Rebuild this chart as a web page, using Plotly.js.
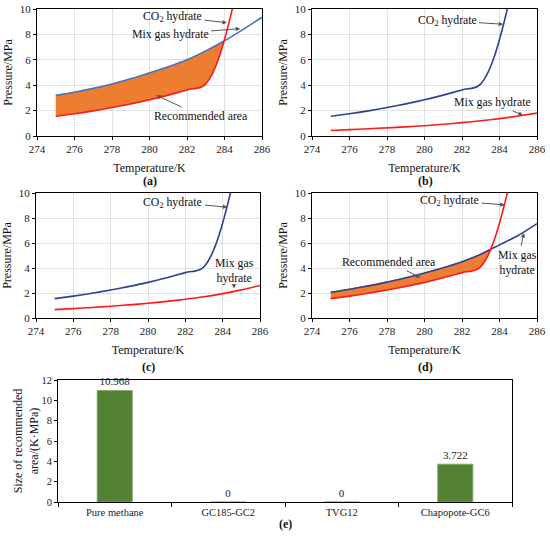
<!DOCTYPE html>
<html>
<head>
<meta charset="utf-8">
<script src="https://cdn.plot.ly/plotly-3.0.1.min.js"></script>
<style>html,body{margin:0;padding:0;background:#fff;}#chart{width:550px;height:541px;}</style>
</head>
<body>
<div id="chart"></div>
<script>
// ---- Data ----
// CO2 hydrate equilibrium curve (same in all four panels)
const co2T = [275, 276, 277, 278, 279, 280, 281, 282, 282.2, 282.5, 282.8, 283.0, 283.2, 283.4, 283.6, 283.8, 284.0, 284.2, 284.35, 284.5];
const co2P = [1.55, 1.75, 1.98, 2.24, 2.53, 2.85, 3.22, 3.63, 3.70, 3.75, 3.88, 4.10, 4.50, 5.05, 5.75, 6.60, 7.60, 8.70, 9.60, 10.5];

// Mixed gas hydrate curves
const mixT  = [275, 276, 277, 278, 279, 280, 281, 282, 283, 284, 285, 286];
const mixA  = [3.20, 3.45, 3.75, 4.10, 4.50, 4.97, 5.45, 6.00, 6.70, 7.50, 8.40, 9.35]; // (a) Pure methane
const mixB  = [0.43, 0.50, 0.57, 0.64, 0.72, 0.81, 0.92, 1.05, 1.20, 1.37, 1.57, 1.80]; // (b) GC185-GC2
const mixC  = [0.67, 0.75, 0.84, 0.94, 1.05, 1.18, 1.33, 1.50, 1.70, 1.95, 2.25, 2.60]; // (c) TVG12
const mixD  = [2.05, 2.30, 2.57, 2.87, 3.22, 3.60, 4.02, 4.50, 5.10, 5.85, 6.60, 7.55]; // (d) Chapopote-GC6

// Panel (e) bar chart
const gasNames = ['Pure methane', 'GC185-GC2', 'TVG12', 'Chapopote-GC6'];
const areaSize = [10.968, 0, 0, 3.722];

// Axis ticks
const tTicks = [274, 276, 278, 280, 282, 284, 286];
const pTicks = [0, 2, 4, 6, 8, 10];
const sTicks = [0, 2, 4, 6, 8, 10, 12];

// ---- Helpers ----
function interp(xs, ys, x) {
  if (x <= xs[0]) return ys[0];
  for (let i = 1; i < xs.length; i++) {
    if (x <= xs[i]) {
      const f = (x - xs[i - 1]) / (xs[i] - xs[i - 1]);
      return ys[i - 1] + f * (ys[i] - ys[i - 1]);
    }
  }
  return ys[ys.length - 1];
}
// Region between the mixed-gas curve (upper) and CO2 curve (lower), up to their crossing
function areaPolygon(mT, mP) {
  let ti = null, pi = null;
  for (let i = 1; i < co2T.length; i++) {
    const d0 = co2P[i - 1] - interp(mT, mP, co2T[i - 1]);
    const d1 = co2P[i] - interp(mT, mP, co2T[i]);
    if (d0 < 0 && d1 >= 0) {
      const f = -d0 / (d1 - d0);
      ti = co2T[i - 1] + f * (co2T[i] - co2T[i - 1]);
      pi = interp(mT, mP, ti);
      break;
    }
  }
  const xs = [], ys = [];
  mT.forEach((t, i) => { if (t < ti) { xs.push(t); ys.push(mP[i]); } });
  xs.push(ti); ys.push(pi);
  for (let i = co2T.length - 1; i >= 0; i--) {
    if (co2T[i] < ti) { xs.push(co2T[i]); ys.push(co2P[i]); }
  }
  return {x: xs, y: ys};
}

const RED = '#ff1a1a';
const BLUE_A = '#4472c4';
const BLUE_B = '#2f3f94';
const ORANGE = '#ed7d31';
const FONT = "'Liberation Serif', 'Times New Roman', Times, serif";

function curve(x, y, color, xa, ya, name) {
  return {x: x, y: y, type: 'scatter', mode: 'lines', name: name,
          line: {color: color, width: 1.6, shape: 'spline', smoothing: 0.6},
          xaxis: xa, yaxis: ya, showlegend: false, hoverinfo: 'skip'};
}
function area(poly, xa, ya) {
  return {x: poly.x, y: poly.y, type: 'scatter', mode: 'lines', fill: 'toself',
          fillcolor: ORANGE, line: {color: ORANGE, width: 0.5},
          xaxis: xa, yaxis: ya, showlegend: false, hoverinfo: 'skip', name: 'Recommended area'};
}

const polyA = areaPolygon(mixT, mixA);
const polyD = areaPolygon(mixT, mixD);

const traces = [
  area(polyA, 'x', 'y'),
  curve(mixT, mixA, BLUE_A, 'x', 'y', 'Mix gas hydrate'),
  curve(co2T, co2P, RED, 'x', 'y', 'CO2 hydrate'),

  curve(mixT, mixB, RED, 'x2', 'y2', 'Mix gas hydrate'),
  curve(co2T, co2P, BLUE_B, 'x2', 'y2', 'CO2 hydrate'),

  curve(mixT, mixC, RED, 'x3', 'y3', 'Mix gas hydrate'),
  curve(co2T, co2P, BLUE_B, 'x3', 'y3', 'CO2 hydrate'),

  area(polyD, 'x4', 'y4'),
  curve(mixT, mixD, BLUE_B, 'x4', 'y4', 'Mix gas hydrate'),
  curve(co2T, co2P, RED, 'x4', 'y4', 'CO2 hydrate'),

  {x: gasNames, y: areaSize, type: 'bar', xaxis: 'x5', yaxis: 'y5',
   marker: {color: '#548235', line: {color: '#86a566', width: 0.8}},
   text: areaSize.map(v => String(v)), textposition: 'outside', cliponaxis: false,
   textfont: {family: FONT, size: 11, color: '#222'},
   width: 0.31, showlegend: false, hoverinfo: 'skip'}
];

const W = 550, H = 541;
const dx = (a, b) => [a / W, b / W];
const dy = (top, bot) => [1 - bot / H, 1 - top / H];

function tAxis(domain, anchor) {
  return {domain: domain, anchor: anchor, range: [274, 286], tickvals: tTicks,
          showgrid: true, gridcolor: '#d9d9d9', gridwidth: 0.8, zeroline: false,
          showline: true, linecolor: '#000', linewidth: 1, mirror: true,
          ticks: 'outside', ticklen: 3, tickcolor: '#000',
          tickfont: {family: FONT, size: 11, color: '#222'},
          title: {text: 'Temperature/K', font: {family: FONT, size: 12, color: '#111'}, standoff: 9}};
}
function pAxis(domain, anchor) {
  return {domain: domain, anchor: anchor, range: [0, 10], tickvals: pTicks,
          showgrid: true, gridcolor: '#d9d9d9', gridwidth: 0.8, zeroline: false,
          showline: true, linecolor: '#000', linewidth: 1, mirror: true,
          ticks: 'outside', ticklen: 3, tickcolor: '#000',
          tickfont: {family: FONT, size: 11, color: '#222'},
          title: {text: 'Pressure/MPa', font: {family: FONT, size: 12, color: '#111'}, standoff: 4}};
}

const layout = {
  width: W, height: H,
  margin: {l: 0, r: 0, t: 0, b: 0},
  paper_bgcolor: '#fff', plot_bgcolor: '#fff',
  font: {family: FONT, color: '#111'},
  xaxis:  tAxis(dx(37, 262), 'y'),
  yaxis:  pAxis(dy(9, 136), 'x'),
  xaxis2: tAxis(dx(312, 537), 'y2'),
  yaxis2: pAxis(dy(9, 136), 'x2'),
  xaxis3: tAxis(dx(36, 260), 'y3'),
  yaxis3: pAxis(dy(193, 318), 'x3'),
  xaxis4: tAxis(dx(312, 537), 'y4'),
  yaxis4: pAxis(dy(193, 318), 'x4'),
  xaxis5: {domain: dx(58, 512), anchor: 'y5', type: 'category',
           showline: true, linecolor: '#000', linewidth: 1, mirror: true,
           ticks: 'outside', tickson: 'boundaries', ticklen: 4, tickcolor: '#000',
           showgrid: false, tickfont: {family: FONT, size: 10.5, color: '#222'}},
  yaxis5: {domain: dy(380, 502), anchor: 'x5', range: [0, 12], tickvals: sTicks,
           showline: true, linecolor: '#000', linewidth: 1, mirror: true,
           ticks: 'outside', ticklen: 3, tickcolor: '#000', showgrid: false, zeroline: false,
           tickfont: {family: FONT, size: 10.5, color: '#222'},
           title: {text: 'Size of recommended<br>area/(K·MPa)', font: {family: FONT, size: 12, color: '#111'}, standoff: 0}},
  annotations: []
};

const AF = {family: FONT, size: 11.8, color: '#111'};
function note(text, xr, yr, hx, hy, tx, ty) {
  layout.annotations.push({text: text, xref: xr, yref: yr, x: hx, y: hy,
    axref: xr, ayref: yr, ax: tx, ay: ty, showarrow: true,
    arrowhead: 2, arrowsize: 0.9, arrowwidth: 1, arrowcolor: '#555', standoff: 0, startstandoff: 1,
    font: AF, align: 'center'});
}
// (a)
note('CO<sub>2</sub> hydrate', 'x', 'y', 284.13, 8.92, 281.25, 9.4);
note('Mix gas hydrate', 'x', 'y', 284.84, 8.45, 281.1, 8.03);
note('Recommended area', 'x', 'y', 280.36, 3.21, 282.73, 1.58);
// (b)
note('CO<sub>2</sub> hydrate', 'x2', 'y2', 284.2, 8.8, 281.2, 9.08);
note('Mix gas hydrate', 'x2', 'y2', 285.25, 1.63, 283.6, 2.68);
// (c)
note('CO<sub>2</sub> hydrate', 'x3', 'y3', 284.25, 8.86, 281.33, 9.28);
note('Mix gas<br>hydrate', 'x3', 'y3', 284.6, 2.35, 284.64, 3.82);
// (d)
note('CO<sub>2</sub> hydrate', 'x4', 'y4', 284.28, 9.05, 281.34, 9.39);
note('Mix gas<br>hydrate', 'x4', 'y4', 285.3, 6.8, 284.96, 4.42);
note('Recommended area', 'x4', 'y4', 279.78, 3.23, 278.09, 4.5);

// Panel labels
const PL = {family: FONT, size: 12, color: '#111'};
[['(a)', 150, 181], ['(b)', 425, 181], ['(c)', 148, 367], ['(d)', 425, 367], ['(e)', 285, 524]].forEach(p => {
  layout.annotations.push({text: '<b>' + p[0] + '</b>', xref: 'paper', yref: 'paper',
    x: p[1] / W, y: 1 - p[2] / H, showarrow: false, font: PL, xanchor: 'center', yanchor: 'middle'});
});

Plotly.newPlot('chart', traces, layout, {staticPlot: true, displayModeBar: false});
</script>
</body>
</html>
